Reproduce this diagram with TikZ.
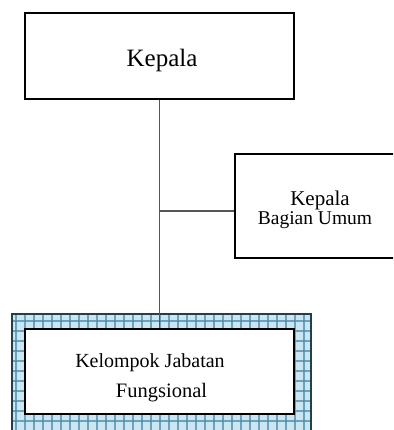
\documentclass[tikz,border=0pt]{standalone}
\usepackage{fontspec}
\setmainfont{Liberation Serif}
\definecolor{bandfill}{HTML}{C9E6F2}
\definecolor{bandline}{HTML}{4F8CA8}
\definecolor{banddark}{HTML}{1E4050}
\definecolor{conn}{HTML}{555555}
\tikzset{
  box/.style={draw=black, line width=1.5pt, fill=white},
  conline/.style={draw=conn, line width=1.1pt},
  lbl/.style={anchor=base, inner sep=0pt, text=black},
}
\begin{document}
\begin{tikzpicture}[x=1pt,y=-1pt]
\useasboundingbox (0,0) rectangle (393,430);
\begin{scope}
\clip (0,0) rectangle (393,430);
% top box
\node[box, minimum width=269pt, minimum height=86pt, inner sep=0pt] (kep) at (159.5,56) {};
% right box
\node[box, line width=1.2pt, minimum width=170pt, minimum height=104pt, inner sep=0pt] (kbu) at (320,206) {};
% patterned band
\fill[bandfill] (12,314) rectangle (311,440);
\foreach \x in {16,25,...,310} {
  \draw[bandline, line width=1.6pt, opacity=0.75] (\x,314) -- (\x,440);
}
\foreach \y in {321,331,...,440} {
  \draw[bandline, line width=1.6pt, opacity=0.75] (12,\y) -- (311,\y);
}
\draw[banddark, line width=1.6pt] (12,440) -- (12,314) -- (311,314) -- (311,440);
% inner box
\node[box, minimum width=269pt, minimum height=85pt, inner sep=0pt] (kjf) at (159.5,371.5) {};
% connectors
\coordinate (j) at (kep.south |- 0,211);
\draw[conline] (kep.south) -- (kjf.north);
\draw[conline] (j) -- (j -| kbu.west);
\end{scope}
% labels
\node[lbl, font=\fontsize{25}{28}\selectfont] (t1) at (162,67) {Kepala};
\node[lbl, font=\fontsize{21}{24}\selectfont] (t2) at (320,205) {Kepala};
\node[lbl, font=\fontsize{19.5}{22}\selectfont] (t3) at (315,224) {Bagian Umum};
\node[lbl, font=\fontsize{20}{23}\selectfont] (t4) at (150,367) {Kelompok Jabatan};
\node[lbl, font=\fontsize{20.5}{23}\selectfont] (t5) at (161.5,397) {Fungsional};
\end{tikzpicture}
\end{document}
